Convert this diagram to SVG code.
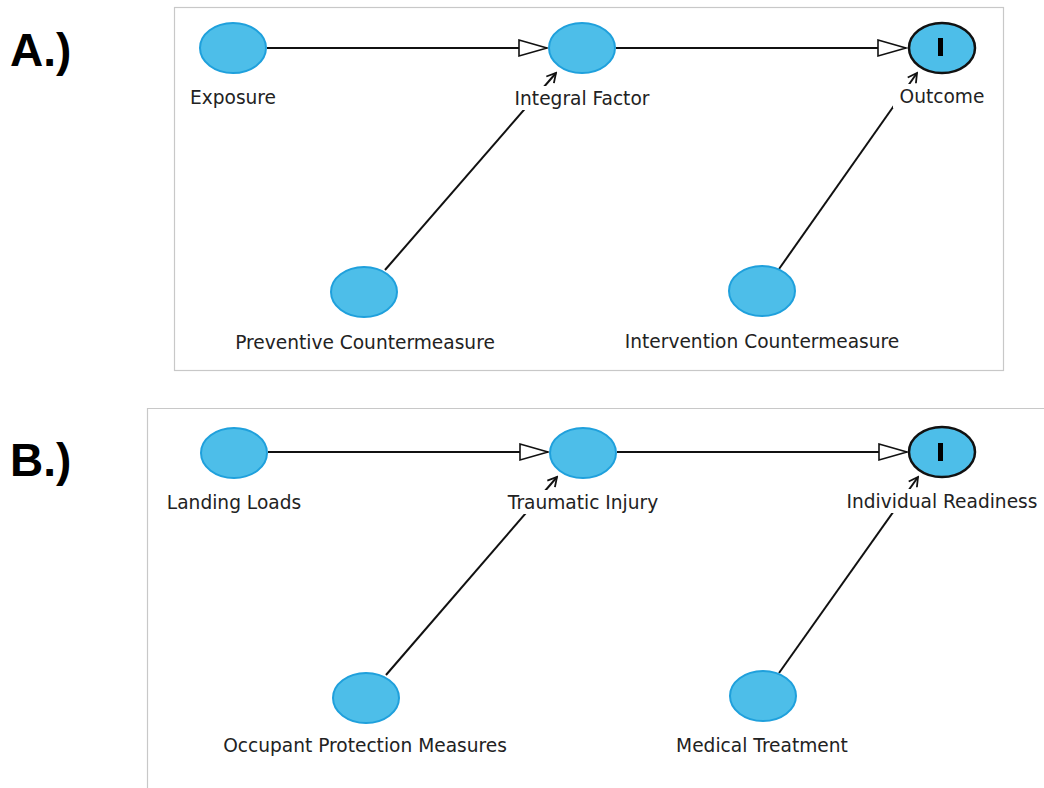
<svg xmlns="http://www.w3.org/2000/svg" width="1044" height="788" viewBox="0 0 1044 788">
<style>
.panel{fill:none;stroke:#c8c8c8;stroke-width:1.2}
.node{fill:#4dbee9;stroke:#1fa0dc;stroke-width:2}
.outnode{fill:#4dbee9;stroke:#111;stroke-width:2.5}
.lbl{font-family:"DejaVu Sans",sans-serif;font-size:18.6px;fill:#222;text-anchor:middle}
.bg{fill:#fff}
.edge{stroke:#111;stroke-width:2;fill:none}
.main{marker-end:url(#tri)}
.inf{marker-end:url(#chev)}
.big{font-family:"Liberation Sans",sans-serif;font-weight:bold;font-size:46px;fill:#000}
</style>
<defs>
<marker id="tri" markerUnits="userSpaceOnUse" markerWidth="32" markerHeight="20" viewBox="0 0 32 20" refX="30" refY="10" orient="auto">
<path d="M2,2 L30,10 L2,18 Z" fill="#fff" stroke="#111" stroke-width="1.6"/>
</marker>
<marker id="chev" markerUnits="userSpaceOnUse" markerWidth="14" markerHeight="14" viewBox="0 0 14 14" refX="12" refY="7" orient="auto">
<path d="M3,2 L12,7 L3,12" fill="none" stroke="#111" stroke-width="1.8"/>
</marker>
</defs>
<rect width="1044" height="788" fill="#fff"/>
<text class="big" x="10" y="66">A.)</text>
<text class="big" x="10" y="476">B.)</text>
<g id="panelA"><rect class="panel" x="174.5" y="7.5" width="829" height="363"/></g>
<g id="panelB"><path class="panel" d="M147.5,788 L147.5,408.5 L1044,408.5"/></g>
<g id="connectors">
<line class="edge main" x1="267" y1="48" x2="547" y2="48"/>
<line class="edge main" x1="616" y1="48" x2="906" y2="48"/>
<line class="edge inf" x1="385" y1="270" x2="556" y2="73"/>
<line class="edge inf" x1="779" y1="269" x2="917" y2="73"/>
<line class="edge main" x1="268" y1="452" x2="548" y2="452"/>
<line class="edge main" x1="617" y1="452" x2="907" y2="452"/>
<line class="edge inf" x1="386" y1="675" x2="557" y2="477"/>
<line class="edge inf" x1="779" y1="673" x2="918" y2="477"/>
</g>
<g id="exposure"><ellipse class="node" cx="233" cy="48" rx="33" ry="25"/><rect class="bg" x="186" y="86" width="94" height="24"/><text class="lbl" x="233" y="104">Exposure</text></g>
<g id="integral"><ellipse class="node" cx="582" cy="48" rx="33" ry="25"/><rect class="bg" x="510" y="86" width="144" height="24"/><text class="lbl" x="582" y="105">Integral Factor</text></g>
<g id="outcome"><ellipse class="outnode" cx="942" cy="48" rx="33" ry="25"/><rect x="938" y="38" width="5" height="18" fill="#000"/><rect class="bg" x="893" y="84" width="98" height="24"/><text class="lbl" x="942" y="103">Outcome</text></g>
<g id="preventive"><ellipse class="node" cx="364" cy="292" rx="33" ry="25"/><rect class="bg" x="230" y="330" width="270" height="24"/><text class="lbl" x="365" y="349">Preventive Countermeasure</text></g>
<g id="intervention"><ellipse class="node" cx="762" cy="291" rx="33" ry="25"/><rect class="bg" x="618" y="330" width="288" height="24"/><text class="lbl" x="762" y="348">Intervention Countermeasure</text></g>
<g id="landing"><ellipse class="node" cx="234" cy="453" rx="33" ry="25"/><rect class="bg" x="162" y="490" width="144" height="24"/><text class="lbl" x="234" y="509">Landing Loads</text></g>
<g id="traumatic"><ellipse class="node" cx="583" cy="453" rx="33" ry="25"/><rect class="bg" x="499" y="490" width="168" height="24"/><text class="lbl" x="583" y="509">Traumatic Injury</text></g>
<g id="readiness"><ellipse class="outnode" cx="942" cy="452" rx="33" ry="25"/><rect x="938" y="443" width="5" height="18" fill="#000"/><rect class="bg" x="840" y="489" width="204" height="24"/><text class="lbl" x="942" y="508">Individual Readiness</text></g>
<g id="occupant"><ellipse class="node" cx="366" cy="698" rx="33" ry="25"/><rect class="bg" x="216" y="734" width="300" height="24"/><text class="lbl" x="365" y="752">Occupant Protection Measures</text></g>
<g id="medical"><ellipse class="node" cx="763" cy="696" rx="33" ry="25"/><rect class="bg" x="670" y="734" width="186" height="24"/><text class="lbl" x="762" y="752">Medical Treatment</text></g>
</svg>
